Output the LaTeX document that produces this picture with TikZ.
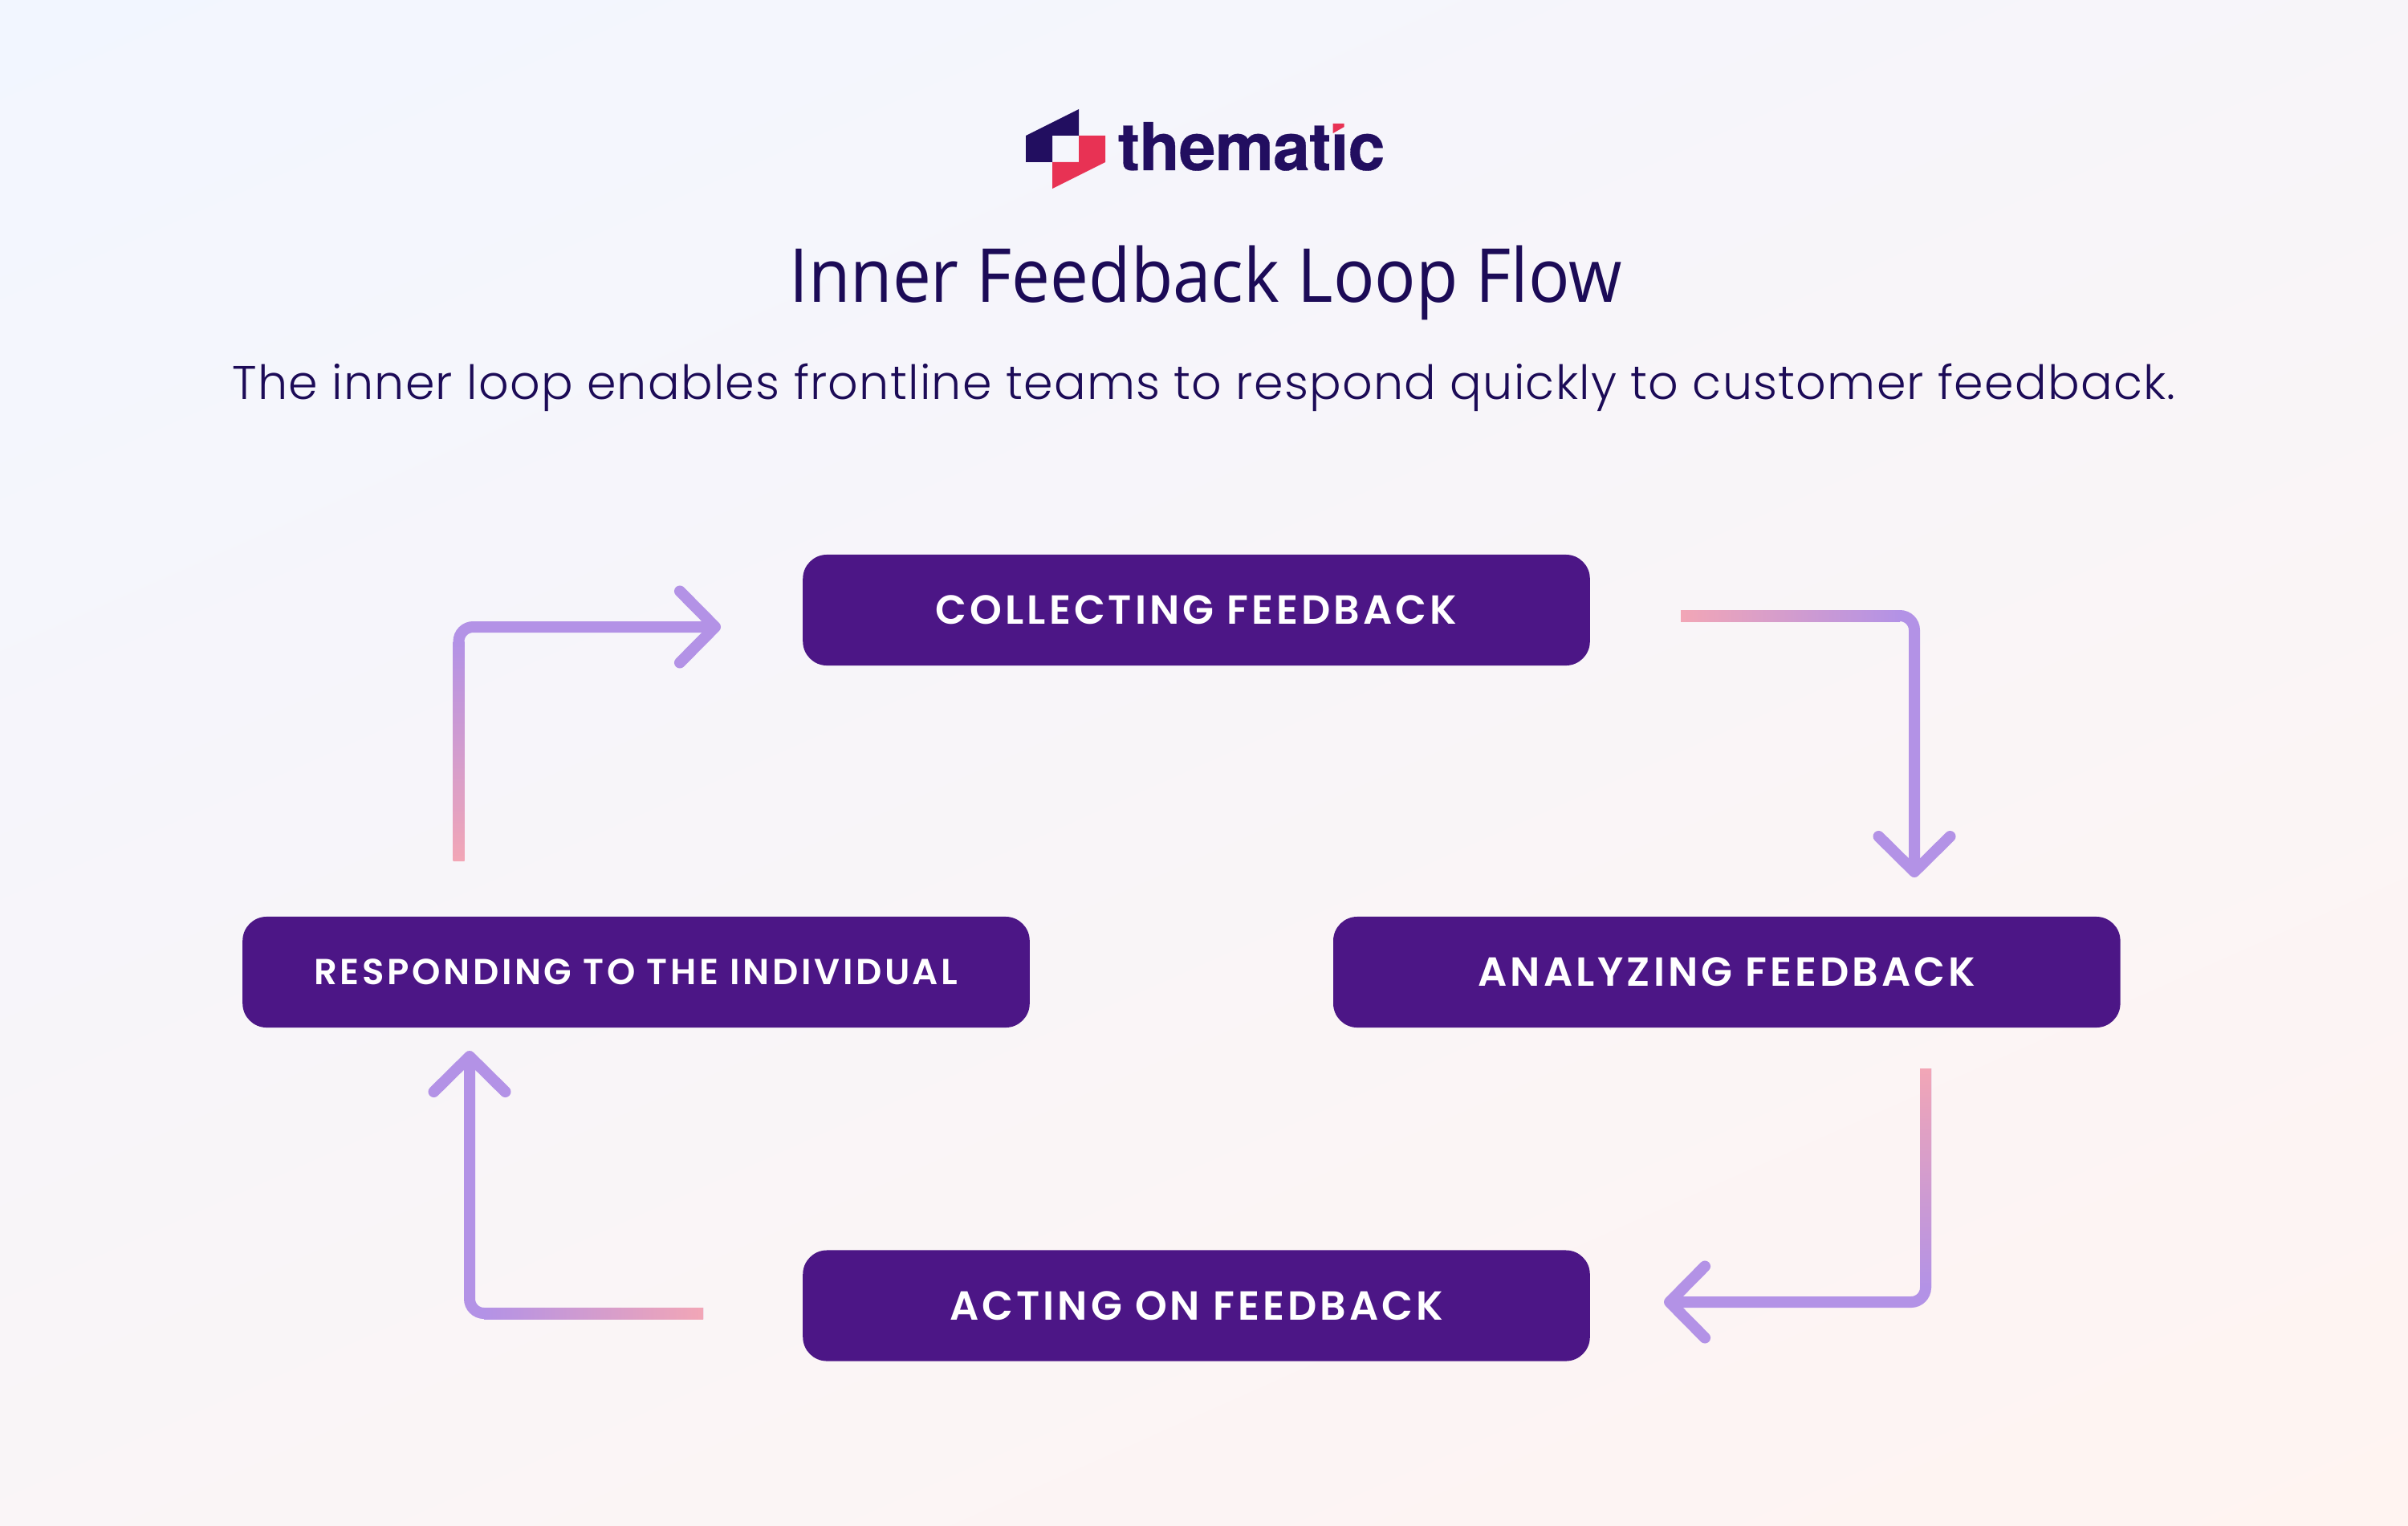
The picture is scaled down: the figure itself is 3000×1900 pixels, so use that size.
\documentclass[tikz,border=0pt]{standalone}
\usepackage{fontspec}
\usepackage{tikz}
\usetikzlibrary{arrows.meta,positioning,calc}
\newfontfamily\titlefont{Open Sans}
\newfontfamily\leadfont{Poppins Light}[LetterSpace=2.15]
\newfontfamily\stagefont{Poppins SemiBold}[LetterSpace=8]
\newfontfamily\brandfont{TeX Gyre Heros}[LetterSpace=-1,FakeBold=0.4]
\definecolor{inkblue}{HTML}{1C0B57}
\definecolor{brandnavy}{HTML}{220E60}
\definecolor{brandred}{HTML}{E83254}
\definecolor{stagepurple}{HTML}{4C1686}
\definecolor{loopviolet}{HTML}{B392E6}
\definecolor{tailpink}{HTML}{F2A6B6}
\definecolor{washblue}{HTML}{F2F6FF}
\definecolor{washmid}{HTML}{F7F6FA}
\definecolor{washrose}{HTML}{FFF4F1}
\definecolor{logowash}{HTML}{F5F5FB}

\begin{document}
\begin{tikzpicture}[x=0.01cm,y=-0.01cm]
  \tikzstyle{stage} = [rectangle, rounded corners=0.3cm, fill=stagepurple, text=white, minimum width=9.8cm, minimum height=1.38cm, inner sep=0pt, font=\stagefont\fontsize{14.4}{16}\selectfont]
  \tikzstyle{loopline} = [line width=0.14cm, loopviolet, rounded corners=0.18cm, -{Straight Barb[length=4.4mm,width=8.9mm,round]}]

  \useasboundingbox (0,0) rectangle (3000,1900);
  \begin{scope}
    \clip (0,0) rectangle (3000,1900);
    \begin{scope}[transform canvas={rotate around={24:(1500,950)}}]
      \shade[top color=washblue, middle color=washmid, bottom color=washrose] (-1000,-529) rectangle (4000,2429);
    \end{scope}
  \end{scope}

  % logo
  \fill[brandnavy] (1278,169) -- (1344,136) -- (1344,169) -- (1311,169) -- (1311,202) -- (1278,202) -- cycle;
  \fill[brandred] (1344,169) -- (1377,169) -- (1377,202) -- (1311,235) -- (1311,202) -- (1344,202) -- cycle;
  \node[anchor=base west, inner sep=0pt, text=brandnavy, font=\brandfont\bfseries\fontsize{23.4}{26}\selectfont] (brand) at (1392,212) {thematic};
  \fill[logowash] (1658,150) rectangle (1678,167.5);
  \fill[brandred] (1660.7,154) -- (1674.7,154) -- (1674.7,158) -- (1660.7,166) -- cycle;

  \node[anchor=base, inner sep=0pt, xscale=0.92, transform shape, text=inkblue, font=\titlefont\fontsize{26.4}{30}\selectfont] (title) at (1502,376) {Inner Feedback Loop Flow};
  \node[anchor=base, inner sep=0pt, text=inkblue, font=\leadfont\fontsize{16.7}{20}\selectfont] (lead) at (1500,497) {The inner loop enables frontline teams to respond quickly to customer feedback.};

  \node[stage] (collecting) at (1490.5,760) {COLLECTING FEEDBACK};
  \node[stage, font=\stagefont\fontsize{12.8}{16}\selectfont] (responding) at (792.5,1211) {RESPONDING TO THE INDIVIDUAL};
  \node[stage, right of=responding, node distance=13.58cm] (analyzing) {ANALYZING FEEDBACK};
  \node[stage, below of=collecting, node distance=8.66cm] (acting) {ACTING ON FEEDBACK};

  \coordinate (collectOut) at (2094,767);
  \coordinate (analyzeIn) at (2385,1093);
  \coordinate (analyzeOut) at (2399,1331);
  \coordinate (actIn) at (2073,1622);
  \coordinate (actOut) at (876,1636);
  \coordinate (respondIn) at (585,1309);
  \coordinate (respondOut) at (571.5,1072);
  \coordinate (collectIn) at (898,781);

  \draw[loopline] (collectOut) -| (analyzeIn);
  \draw[loopline] (analyzeOut) |- (actIn);
  \draw[loopline] (actOut) -| (respondIn);
  \draw[loopline] (respondOut) |- (collectIn);

  % pink tails
  \shade[left color=tailpink, right color=loopviolet] ($(collectOut)+(0,-7)$) rectangle ($(collectOut -| analyzeIn)+(-18,7)$);
  \shade[top color=tailpink, bottom color=loopviolet] ($(analyzeOut)+(-7,0)$) rectangle ($(analyzeOut |- actIn)+(7,-18)$);
  \shade[left color=loopviolet, right color=tailpink] ($(actOut -| respondIn)+(18,-7)$) rectangle ($(actOut)+(0,7)$);
  \shade[top color=loopviolet, bottom color=tailpink] ($(respondOut |- collectIn)+(-7,18)$) rectangle ($(respondOut)+(7,0)$);
\end{tikzpicture}
\end{document}
